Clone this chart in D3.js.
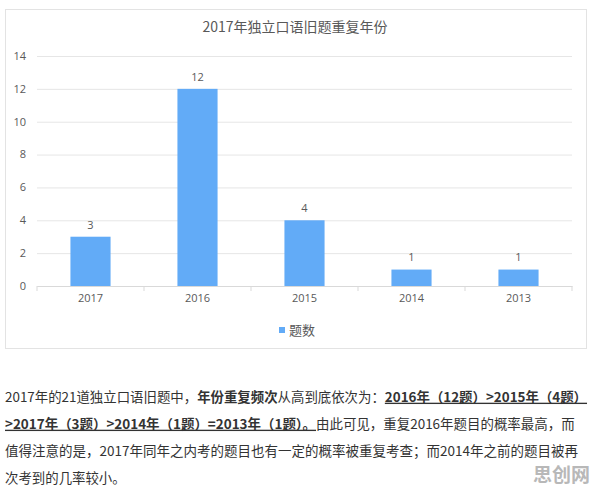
<!DOCTYPE html>
<html>
<head>
<meta charset="utf-8">
<script src="https://cdn.jsdelivr.net/npm/d3@7"></script>
<style>
  body { margin: 0; background: #fff; }
  svg { display: block; }
</style>
</head>
<body>
<div id="chart"></div>
<script>
// chart data
var years = ["2017", "2016", "2015", "2014", "2013"];
var counts = [3, 12, 4, 1, 1];
var yTicks = [0, 2, 4, 6, 8, 10, 12, 14];
var chartTitle = "2017年独立口语旧题重复年份";
var seriesName = "题数";

// paragraph below the chart, one array per line: [text, bold, underline]
var line1 = [["2017年的21道独立口语旧题中，", false, false], ["年份重复频次", true, false], ["从高到底依次为：", false, false], ["2016年（12题）>2015年（4题）", true, true]];
var line2 = [[">2017年（3题）>2014年（1题）=2013年（1题）。", true, true], ["由此可见，重复2016年题目的概率最高，而", false, false]];
var line3 = [["值得注意的是，2017年同年之内考的题目也有一定的概率被重复考查；而2014年之前的题目被再", false, false]];
var line4 = [["次考到的几率较小。", false, false]];
var paragraph = [line1, line2, line3, line4];

var width = 596, height = 492;
var font = "'Open Sans', 'Noto Sans CJK SC', sans-serif";
var cjk = "'Noto Sans CJK SC', 'Liberation Sans', sans-serif";

var svg = d3.select("#chart").append("svg")
  .attr("width", width)
  .attr("height", height);

// chart frame
svg.append("rect")
  .attr("x", 5.5).attr("y", 9.5)
  .attr("width", 581).attr("height", 339)
  .attr("fill", "#fff")
  .attr("stroke", "#e3e3e3");

svg.append("text")
  .attr("x", 295).attr("y", 32)
  .attr("text-anchor", "middle")
  .attr("font-family", cjk)
  .attr("font-size", 14)
  .attr("fill", "#595959")
  .text(chartTitle);

// scales
var xScale = d3.scaleBand()
  .domain(years)
  .range([37, 572])
  .padding(0);
var yScale = d3.scaleLinear()
  .domain([0, 14])
  .range([286, 56]);

// grid
svg.append("g")
  .attr("transform", "translate(37,0)")
  .call(d3.axisLeft(yScale).tickValues(yTicks).tickSize(-535).tickFormat(""))
  .call(g => g.select(".domain").remove())
  .call(g => g.selectAll(".tick line").attr("stroke", "#e6e6e6"));

// y labels
svg.append("g")
  .selectAll("text")
  .data(yTicks)
  .enter()
  .append("text")
  .attr("x", 26)
  .attr("y", d => yScale(d))
  .attr("dy", "0.35em")
  .attr("text-anchor", "end")
  .attr("font-family", font)
  .attr("font-size", 11)
  .attr("fill", "#595959")
  .text(d => d);

// bars
var barW = xScale.bandwidth() * 0.375;
svg.append("g")
  .selectAll("rect")
  .data(years)
  .enter()
  .append("rect")
  .attr("x", (d) => xScale(d) + (xScale.bandwidth() - barW) / 2)
  .attr("y", (d, i) => yScale(counts[i]))
  .attr("width", barW)
  .attr("height", (d, i) => yScale(0) - yScale(counts[i]))
  .attr("fill", "#62abf7");

// value labels
svg.append("g")
  .selectAll("text")
  .data(years)
  .enter()
  .append("text")
  .attr("x", d => xScale(d) + xScale.bandwidth() / 2)
  .attr("y", (d, i) => yScale(counts[i]) - 12)
  .attr("dy", "0.35em")
  .attr("text-anchor", "middle")
  .attr("font-family", font)
  .attr("font-size", 11)
  .attr("fill", "#595959")
  .text((d, i) => counts[i]);

// x axis
svg.append("g")
  .attr("transform", "translate(0,286)")
  .call(d3.axisBottom(xScale).tickSize(0).tickPadding(8))
  .call(g => g.select(".domain").attr("stroke", "#d9d9d9"))
  .call(g => g.selectAll(".tick text")
    .attr("font-family", font)
    .attr("font-size", 11)
    .attr("fill", "#595959"));

// category boundary ticks
var bounds = years.map(d => xScale(d)).concat([xScale.range()[1]]);
svg.append("g")
  .selectAll("line")
  .data(bounds)
  .enter()
  .append("line")
  .attr("x1", d => d).attr("x2", d => d)
  .attr("y1", 286).attr("y2", 291)
  .attr("stroke", "#d9d9d9");

// legend
svg.append("rect")
  .attr("x", 279).attr("y", 327)
  .attr("width", 6).attr("height", 6)
  .attr("fill", "#62abf7");
svg.append("text")
  .attr("x", 289).attr("y", 330)
  .attr("dy", "0.35em")
  .attr("font-family", cjk)
  .attr("font-size", 13)
  .attr("fill", "#595959")
  .text(seriesName);

// paragraph - font size scaled so each line fills its width
var lineY = [397, 424, 451, 478];
var lineLen = [583, 570, 573, null];
var baseSize = 14.5;
var fitted = null;
paragraph.forEach(function (parts, i) {
  var t = svg.append("text")
    .attr("x", 5)
    .attr("y", lineY[i])
    .attr("dy", "0.35em")
    .attr("font-family", cjk)
    .attr("font-size", baseSize)
    .attr("fill", "#333");
  parts.forEach(function (p) {
    t.append("tspan")
      .attr("font-weight", p[1] ? "bold" : "normal")
      .style("text-decoration", p[2] ? "underline" : "none")
      .text(p[0]);
  });
  if (lineLen[i]) {
    var size = baseSize * lineLen[i] / t.node().getComputedTextLength();
    t.attr("font-size", size);
    fitted = fitted ? Math.min(fitted, size) : size;
  } else {
    t.attr("font-size", fitted || baseSize);
  }
});

// watermark
svg.append("text")
  .attr("x", 590).attr("y", 475)
  .attr("dy", "0.35em")
  .attr("text-anchor", "end")
  .attr("font-family", cjk)
  .attr("font-weight", "bold")
  .attr("font-size", 19)
  .attr("fill", "#b8b8b8")
  .text("思创网");
</script>
</body>
</html>
